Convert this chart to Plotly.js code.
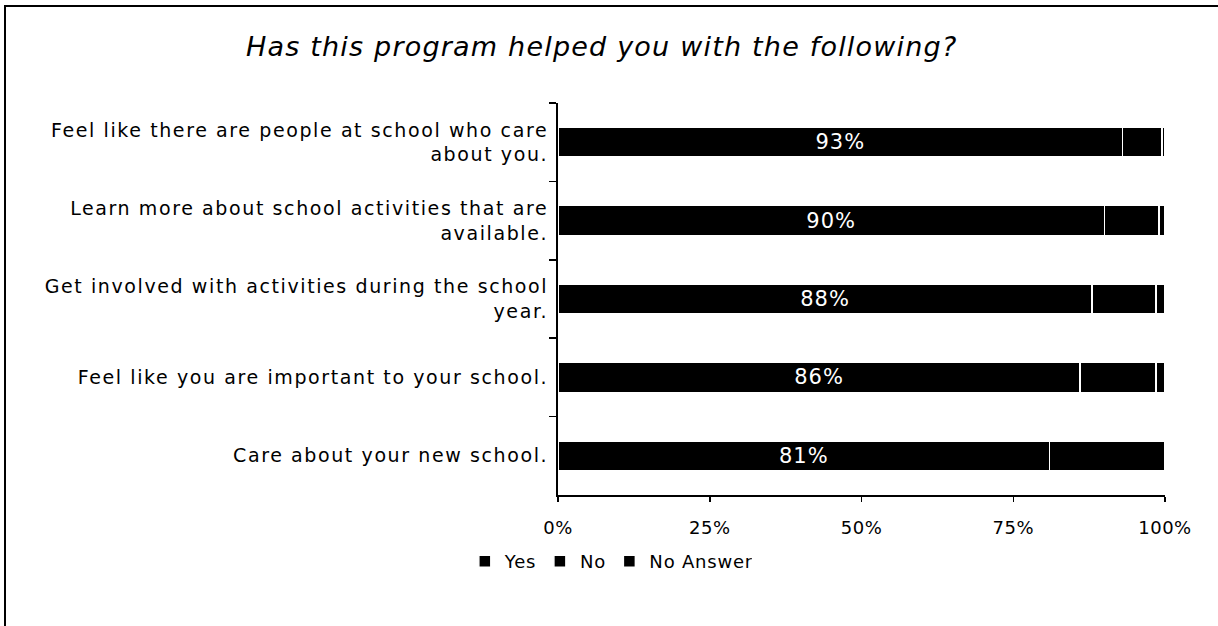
<!DOCTYPE html>
<html>
<head>
<meta charset="utf-8">
<script src="https://cdn.plot.ly/plotly-3.0.1.min.js"></script>
<style>
  html, body { margin: 0; padding: 0; background: #fff; }
  #wrap { position: relative; width: 1218px; height: 626px; overflow: hidden; }
  #chart { position: absolute; left: 0; top: 0; width: 1218px; height: 626px; }
  #frame { position: absolute; left: 4px; top: 5px; width: 1230px; height: 640px;
           border-left: 2px solid #000; border-top: 2px solid #000; pointer-events: none; }
  #chart .ytick text { letter-spacing: 1.6px; }
  #chart .xtick text { letter-spacing: 0.5px; }
  #chart .gtitle { letter-spacing: 1.2px; }
  #chart .bartext { letter-spacing: 1px; }
  #chart .legendtext { letter-spacing: 0.8px; }
</style>
</head>
<body>
<div id="wrap">
  <div id="chart"></div>
  <div id="frame"></div>
</div>
<script>
const categories = [
  "Feel like there are people at school who care<br>about you.",
  "Learn more about school activities that are<br>available.",
  "Get involved with activities during the school<br>year.",
  "Feel like you are important to your school.",
  "Care about your new school."
];
const yesValues = [93, 90, 88, 86, 81];
const noValues = [6.5, 9, 10.5, 12.5, 19];
const noAnswerValues = [0.5, 1, 1.5, 1.5, 0];
const xTickVals = [0, 25, 50, 75, 100];
const xTickText = ["0%", "25%", "50%", "75%", "100%"];
const seriesNames = ["Yes", "No", "No Answer"];

const FONT = "DejaVu Sans, sans-serif";
const barLine = { color: "#ffffff", width: 1.5 };

const traces = [
  {
    type: "bar", orientation: "h", name: seriesNames[0],
    y: categories, x: yesValues,
    marker: { color: "#000000", line: barLine },
    text: yesValues.map(v => v + "%"),
    textposition: "inside", insidetextanchor: "middle",
    textfont: { color: "#ffffff", size: 21, family: FONT },
    constraintext: "none",
    hoverinfo: "skip"
  },
  {
    type: "bar", orientation: "h", name: seriesNames[1],
    y: categories, x: noValues,
    marker: { color: "#000000", line: barLine },
    hoverinfo: "skip"
  },
  {
    type: "bar", orientation: "h", name: seriesNames[2],
    y: categories, x: noAnswerValues,
    marker: { color: "#000000", line: barLine },
    hoverinfo: "skip"
  }
];

const layout = {
  width: 1218, height: 626,
  paper_bgcolor: "rgba(0,0,0,0)", plot_bgcolor: "rgba(0,0,0,0)",
  margin: { l: 558, r: 53, t: 103, b: 131 },
  barmode: "stack",
  bargap: 0.62,
  font: { family: FONT, color: "#000", size: 19 },
  title: {
    text: "<i>Has this program helped you with the following?</i>",
    font: { family: FONT, size: 27, color: "#000" },
    x: 0.494, xref: "container", xanchor: "center",
    y: 0.925, yref: "container", yanchor: "middle"
  },
  xaxis: {
    range: [0, 100], fixedrange: true,
    tickvals: xTickVals, ticktext: xTickText,
    ticks: "outside", ticklen: 5, tickwidth: 1.5, tickcolor: "#000",
    showline: true, linecolor: "#000", linewidth: 2,
    showgrid: false, zeroline: false,
    tickfont: { size: 18, family: FONT },
    ticklabelstandoff: 10
  },
  yaxis: {
    type: "category", autorange: "reversed", fixedrange: true,
    ticks: "outside", tickson: "boundaries", ticklen: 7, tickwidth: 1.5, tickcolor: "#000",
    showline: true, linecolor: "#000", linewidth: 2,
    showgrid: false, zeroline: false,
    tickfont: { size: 19, family: FONT },
    ticklabelstandoff: 4
  },
  legend: {
    orientation: "h", x: -0.1535, xanchor: "left", y: -0.17, yanchor: "middle",
    font: { size: 18, family: FONT }, itemwidth: 30, traceorder: "normal"
  },
  showlegend: true,
  hovermode: false
};

Plotly.newPlot("chart", traces, layout, { displayModeBar: false, staticPlot: true });
</script>
</body>
</html>
